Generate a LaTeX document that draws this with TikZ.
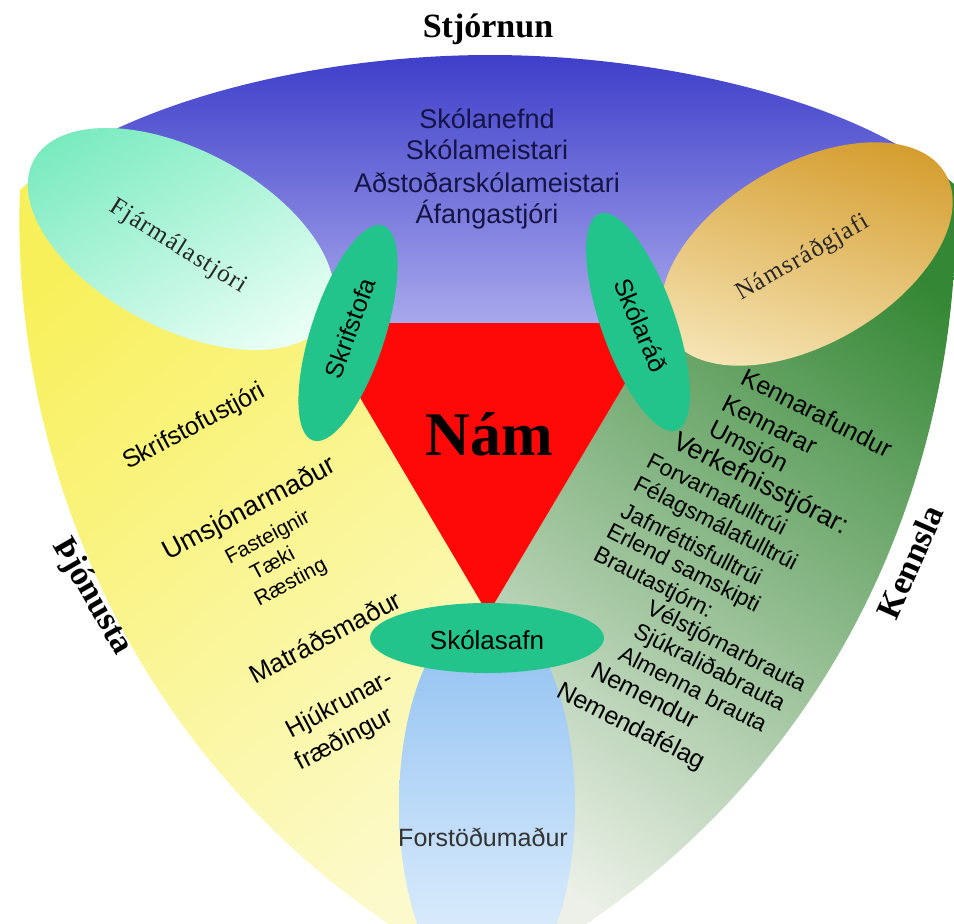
\documentclass[tikz,border=0pt]{standalone}
\usepackage{fontspec}
\setmainfont{Liberation Serif}
\newfontfamily\sans{Liberation Sans}
\newfontfamily\spaced[LetterSpace=5]{Liberation Serif}
\usetikzlibrary{shapes.geometric}
\definecolor{blueTop}{RGB}{56,56,200}
\definecolor{blueBot}{RGB}{168,168,236}
\definecolor{yelA}{RGB}{248,240,90}
\definecolor{yelB}{RGB}{252,250,205}
\definecolor{grnA}{RGB}{52,135,52}
\definecolor{grnM}{RGB}{130,176,124}
\definecolor{grnB}{RGB}{236,240,232}
\definecolor{mintA}{RGB}{120,234,190}
\definecolor{mintB}{RGB}{238,255,248}
\definecolor{goldA}{RGB}{212,156,44}
\definecolor{goldB}{RGB}{246,230,184}
\definecolor{skyA}{RGB}{140,190,240}
\definecolor{skyB}{RGB}{234,245,255}
\definecolor{tealg}{RGB}{34,196,140}
\definecolor{namred}{RGB}{255,8,8}
\definecolor{navy}{RGB}{20,20,70}
\tikzset{
  greenell/.style={ellipse, fill=tealg, inner sep=0pt},
  sector/.style={font=\bfseries\fontsize{34}{40}\selectfont},
  toptxt/.style={anchor=base, text=navy, font=\sans\fontsize{27}{32}\selectfont},
  rlist/.style={anchor=base west, rotate=-27, inner sep=0pt, font=\sans\fontsize{#1}{#1}\selectfont},
  llist/.style={rotate=28, inner sep=0pt, font=\sans\fontsize{#1}{#1}\selectfont},
  elltxt/.style={font=\sans\fontsize{25}{30}\selectfont},
  serifell/.style={font=\spaced\fontsize{25}{28}\selectfont, text=black!85},
}
\def\outerpath{(20,190) .. controls (120,100) and (320,55) .. (490,55) .. controls (660,55) and (860,100) .. (955,185) .. controls (965,450) and (850,780) .. (520,965) -- (455,965) .. controls (125,780) and (10,450) .. (20,190) -- cycle}
\begin{document}
\begin{tikzpicture}[x=1pt,y=-1pt]
\useasboundingbox (0,0) rectangle (954,924);
\begin{scope}
  \clip (0,0) rectangle (954,924);
  \begin{scope}
    \clip \outerpath;
    % blue sector
    \shade[top color=blueTop, bottom color=blueBot] (316,323) -- (-20,160) -- (-20,40) -- (980,40) -- (980,160) -- (661,323) -- cycle;
    % yellow sector
    \begin{scope}
      \clip (316,323) -- (-20,160) -- (-20,1000) -- (488,1000) -- (488,614) -- cycle;
      \shade[top color=yelA, bottom color=yelB, shading angle=40] (-20,150) rectangle (500,1000);
    \end{scope}
    % green sector
    \begin{scope}
      \clip (661,323) -- (980,160) -- (980,1000) -- (488,1000) -- (488,614) -- cycle;
      \shade[top color=grnA, middle color=grnM, bottom color=grnB, shading angle=-35] (480,150) rectangle (980,1000);
    \end{scope}
    % Forstoedumadur ellipse
    \begin{scope}
      \clip (487,805) ellipse [x radius=88, y radius=195];
      \shade[top color=skyA, bottom color=skyB] (399,610) rectangle (575,1000);
    \end{scope}
  \end{scope}
  % red triangle
  \fill[namred] (316,323) -- (661,323) -- (488,614) -- cycle;
  % Fjarmalastjori ellipse
  \begin{scope}
    \clip[rotate around={-28:(181,239)}] (181,239) ellipse [x radius=167, y radius=89];
    \shade[top color=mintA, bottom color=mintB, shading angle=30] (0,100) rectangle (360,380);
  \end{scope}
  % Namsradgjafi ellipse
  \begin{scope}
    \clip[rotate around={30:(807,254)}] (807,254) ellipse [x radius=160, y radius=90];
    \shade[top color=goldA, bottom color=goldB, shading angle=-15] (630,130) rectangle (980,380);
  \end{scope}
  % green ellipses
  \node[greenell, minimum width=226pt, minimum height=74pt, rotate=72] (skrE) at (348,333) {};
  \node[greenell, minimum width=230pt, minimum height=74pt, rotate=-70.5] (skrad) at (638,322) {};
  \node[greenell, minimum width=234pt, minimum height=70pt] (safn) at (487,638) {};
\end{scope}

% sector titles
\node[sector, anchor=base] (stjornun) at (488,37) {Stjórnun};
\node[sector, rotate=-60] (thjon) at (92,597) {Þjónusta};
\node[sector, rotate=66] (kennsla) at (910,562) {Kennsla};
\node[anchor=base, font=\bfseries\fontsize{62}{70}\selectfont] (nam) at (489,455) {Nám};

% top list
\node[toptxt] (t1) at (487,128) {Skólanefnd};
\node[toptxt] (t2) at (487,159) {Skólameistari};
\node[toptxt] (t3) at (487,192) {Aðstoðarskólameistari};
\node[toptxt] (t4) at (487,223) {Áfangastjóri};

% ellipse labels
\node[serifell, rotate=-32] (fjar) at (178,247) {Fjármálastjóri};
\node[serifell, rotate=30] (nams) at (803,258) {Námsráðgjafi};
\node[elltxt, rotate=70] (skrT) at (350,328) {Skrifstofa};
\node[elltxt, rotate=-67] (skradT) at (641,325) {Skólaráð};
\node[font=\sans\fontsize{26}{30}\selectfont] (safnT) at (487,640) {Skólasafn};
\node[font=\sans\fontsize{25}{30}\selectfont, text=black!80] (forst) at (483,837) {Forstöðumaður};

% left list
\node[llist=25, anchor=base west] (l1) at (128,470) {Skrifstofustjóri};
\node[llist=27, anchor=base west] (l2) at (168,561) {Umsjónarmaður};
\node[llist=21] (l3) at (268,538) {Fasteignir};
\node[llist=21] (l4) at (272,563) {Tæki};
\node[llist=21] (l5) at (291,583) {Ræsting};
\node[llist=26] (l6) at (325,637) {Matráðsmaður};
\node[llist=25] (l7) at (340,705) {Hjúkrunar-};
\node[llist=25] (l8) at (345,740) {fræðingur};

% right list
\node[rlist=25] (r1) at (739,383) {Kennarafundur};
\node[rlist=25] (r2) at (720,409) {Kennarar};
\node[rlist=25] (r3) at (707,434) {Umsjón};
\node[rlist=27] (r4) at (671,447) {Verkefnisstjórar:};
\node[rlist=23] (r5) at (645,466) {Forvarnafulltrúi};
\node[rlist=23] (r6) at (632,489) {Félagsmálafulltrúi};
\node[rlist=23] (r7) at (619,516) {Jafnréttisfulltrúi};
\node[rlist=23] (r8) at (605,536) {Erlend samskipti};
\node[rlist=23] (r9) at (592,559) {Brautastjórn:};
\node[rlist=23] (r10) at (645,613) {Vélstjórnarbrauta};
\node[rlist=23] (r11) at (632,636) {Sjúkraliðabrauta};
\node[rlist=23] (r12) at (617,659) {Almenna brauta};
\node[rlist=25] (r13) at (589,676) {Nemendur};
\node[rlist=25] (r14) at (555,696) {Nemendafélag};
\end{tikzpicture}
\end{document}
